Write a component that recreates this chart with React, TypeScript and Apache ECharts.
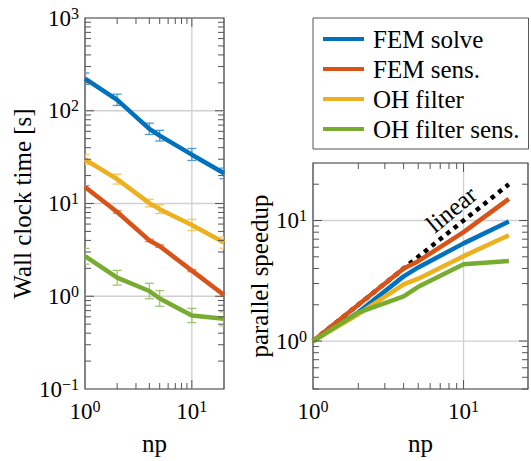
import React, { useEffect, useRef } from 'react';
import * as echarts from 'echarts';

// ---------------- data ----------------
const np = [1, 2, 4, 5, 10, 20];

const seriesNames = ['FEM solve', 'FEM sens.', 'OH filter', 'OH filter sens.'];

// wall clock time [s]
const femSolveTime = [222, 131, 63.8, 53.9, 33.6, 21.2];
const femSolveLo = [192, 114, 55.5, 47.2, 29.1, 18.5];
const femSolveHi = [255, 151, 73.5, 61.5, 39.2, 24.1];

const femSensTime = [15.1, 8.1, 4.0, 3.47, 1.89, 1.03];
const femSensLo = [14.6, 7.85, 3.88, 3.37, 1.84, 1.0];
const femSensHi = [15.6, 8.35, 4.12, 3.57, 1.94, 1.06];

const ohFilterTime = [29.8, 18.3, 10.1, 8.69, 5.87, 3.79];
const ohFilterLo = [26.4, 16.2, 9.2, 7.8, 5.1, 3.3];
const ohFilterHi = [33.6, 20.7, 11.1, 9.7, 6.75, 4.35];

const ohSensTime = [2.7, 1.585, 1.14, 0.946, 0.62, 0.573];
const ohSensLo = [2.22, 1.32, 0.94, 0.78, 0.52, 0.48];
const ohSensHi = [3.28, 1.9, 1.38, 1.15, 0.74, 0.68];

// parallel speedup
const femSolveSpeedup = [1, 1.73, 3.44, 4.08, 6.46, 9.8];
const femSensSpeedup = [1, 2.0, 4.0, 4.6, 8.0, 15.1];
const ohFilterSpeedup = [1, 1.67, 2.95, 3.29, 5.06, 7.55];
const ohSensSpeedup = [1, 1.72, 2.35, 2.82, 4.34, 4.61];
const linearSpeedup = [1, 2, 4, 5, 10, 20];

const linearLabelPos = [8.3, 12.4];

// ticks
const minorMultipliers = [2, 3, 4, 5, 6, 7, 8, 9];
const leftXMinor = [2, 3, 4, 5, 6, 7, 8, 9];
const leftXMajor = [10];
const leftYDecades = [0.1, 1, 10, 100];
const leftYMajor = [1, 10, 100];
const rightXMinor = [2, 3, 4, 5, 6, 7, 8, 9];
const rightXMajor = [10];
const rightYMinor = [0.4, 0.5, 0.6, 0.7, 0.8, 0.9, 2, 3, 4, 5, 6, 7, 8, 9, 20];
const rightYMajor = [1, 10];

// ---------------- style ----------------
const FONT = 'Liberation Serif, serif';
const colors = ['#0072BD', '#D95319', '#EDB120', '#77AC30'];
const errColors = ['#4D9CD1', '#E4875E', '#F2C863', '#A0C56E'];

const tickLabel = (v: number) => {
  const e = Math.log10(v);
  const r = Math.round(e);
  if (Math.abs(e - r) > 1e-6) return '';
  const s = r < 0 ? '\u2212' + -r : String(r);
  return `{b|10}{s|${s}}`;
};

const labelRich = {
  b: { fontSize: 23, fontFamily: FONT, color: '#000' },
  s: { fontSize: 16, fontFamily: FONT, color: '#000', padding: [0, 0, 10, 0] },
};

// kinds: 0 x-minor, 1 x-major, 2 y-minor, 3 y-major
function tickData(xMinor: number[], xMajor: number[], yMinor: number[], yMajor: number[]) {
  const d: number[][] = [];
  xMinor.forEach((v) => d.push([v, 1, 0]));
  xMajor.forEach((v) => d.push([v, 1, 1]));
  yMinor.forEach((v) => d.push([1, v, 2]));
  yMajor.forEach((v) => d.push([1, v, 3]));
  return d;
}

const tickRender = (params: any, api: any) => {
  const cs = params.coordSys;
  const kind = api.value(2);
  const p = api.coord([api.value(0), api.value(1)]);
  const len = kind === 1 || kind === 3 ? 9 : 6;
  const style = { stroke: '#555', lineWidth: 1 };
  if (kind < 2) {
    const x = p[0];
    return {
      type: 'group',
      children: [
        { type: 'line', shape: { x1: x, y1: cs.y + cs.height, x2: x, y2: cs.y + cs.height - len }, style },
        { type: 'line', shape: { x1: x, y1: cs.y, x2: x, y2: cs.y + len }, style },
      ],
    };
  }
  const y = p[1];
  return {
    type: 'group',
    children: [
      { type: 'line', shape: { x1: cs.x, y1: y, x2: cs.x + len, y2: y }, style },
      { type: 'line', shape: { x1: cs.x + cs.width, y1: y, x2: cs.x + cs.width - len, y2: y }, style },
    ],
  };
};

const gridRender = (params: any, api: any) => {
  const cs = params.coordSys;
  const kind = api.value(2);
  const p = api.coord([api.value(0), api.value(1)]);
  const style = { stroke: '#d0d0d0', lineWidth: 1.3 };
  if (kind < 2) {
    return { type: 'line', shape: { x1: p[0], y1: cs.y, x2: p[0], y2: cs.y + cs.height }, style };
  }
  return { type: 'line', shape: { x1: cs.x, y1: p[1], x2: cs.x + cs.width, y2: p[1] }, style };
};

const errRender = (color: string) => (params: any, api: any) => {
  const x = api.value(0);
  const lo = api.coord([x, api.value(1)]);
  const hi = api.coord([x, api.value(2)]);
  const w = 4.5;
  const style = { stroke: color, lineWidth: 1.3 };
  return {
    type: 'group',
    children: [
      { type: 'line', shape: { x1: lo[0], y1: lo[1], x2: hi[0], y2: hi[1] }, style },
      { type: 'line', shape: { x1: lo[0] - w, y1: lo[1], x2: lo[0] + w, y2: lo[1] }, style },
      { type: 'line', shape: { x1: hi[0] - w, y1: hi[1], x2: hi[0] + w, y2: hi[1] }, style },
    ],
  };
};

function buildOption() {
  const times = [femSolveTime, femSensTime, ohFilterTime, ohSensTime];
  const los = [femSolveLo, femSensLo, ohFilterLo, ohSensLo];
  const his = [femSolveHi, femSensHi, ohFilterHi, ohSensHi];
  const speedups = [femSolveSpeedup, femSensSpeedup, ohFilterSpeedup, ohSensSpeedup];

  const leftYMinor: number[] = [];
  leftYDecades.forEach((d) => minorMultipliers.forEach((m) => leftYMinor.push(+(d * m).toPrecision(6))));

  const series: any[] = [];
  series.push({
    type: 'custom', name: 'gridL', xAxisIndex: 0, yAxisIndex: 0, z: 1, silent: true,
    renderItem: gridRender, encode: { x: 0, y: 1 },
    data: tickData([], leftXMajor, [], leftYMajor),
  });
  series.push({
    type: 'custom', name: 'gridR', xAxisIndex: 1, yAxisIndex: 1, z: 1, silent: true,
    renderItem: gridRender, encode: { x: 0, y: 1 },
    data: tickData([], rightXMajor, [], rightYMajor),
  });
  seriesNames.forEach((n, i) => {
    series.push({
      type: 'custom', name: n + ' err', xAxisIndex: 0, yAxisIndex: 0, z: 2, clip: true, silent: true,
      renderItem: errRender(errColors[i]), encode: { x: 0, y: [1, 2] },
      data: np.map((x, k) => [x, los[i][k], his[i][k]]),
    });
  });
  seriesNames.forEach((n, i) => {
    series.push({
      type: 'line', name: n, xAxisIndex: 0, yAxisIndex: 0, z: 3,
      symbol: 'none', showSymbol: false,
      itemStyle: { color: colors[i] },
      lineStyle: { color: colors[i], width: 4.5 },
      data: np.map((x, k) => [x, times[i][k]]),
    });
  });
  series.push({
    type: 'line', name: 'linear', xAxisIndex: 1, yAxisIndex: 1, z: 3,
    symbol: 'none', showSymbol: false,
    itemStyle: { color: '#000' },
    lineStyle: { color: '#000', width: 4.5, type: [4.5, 5], cap: 'butt' },
    data: np.map((x, k) => [x, linearSpeedup[k]]),
  });
  seriesNames.forEach((n, i) => {
    series.push({
      type: 'line', name: n, xAxisIndex: 1, yAxisIndex: 1, z: 3,
      symbol: 'none', showSymbol: false,
      itemStyle: { color: colors[i] },
      lineStyle: { color: colors[i], width: 4.5 },
      data: np.map((x, k) => [x, speedups[i][k]]),
    });
  });
  series.push({
    type: 'custom', name: 'linearLabel', xAxisIndex: 1, yAxisIndex: 1, z: 5, silent: true,
    encode: { x: 0, y: 1 },
    data: [linearLabelPos],
    renderItem: (params: any, api: any) => {
      const p = api.coord([api.value(0), api.value(1)]);
      return {
        type: 'text', x: p[0], y: p[1], rotation: (39.4 * Math.PI) / 180,
        style: { text: 'linear', fontFamily: FONT, fontSize: 25, fill: '#000', align: 'center', verticalAlign: 'middle' },
      };
    },
  });
  series.push({
    type: 'custom', name: 'ticksL', xAxisIndex: 0, yAxisIndex: 0, z: 6, silent: true,
    renderItem: tickRender, encode: { x: 0, y: 1 },
    data: tickData(leftXMinor, leftXMajor, leftYMinor, leftYMajor),
  });
  series.push({
    type: 'custom', name: 'ticksR', xAxisIndex: 1, yAxisIndex: 1, z: 6, silent: true,
    renderItem: tickRender, encode: { x: 0, y: 1 },
    data: tickData(rightXMinor, rightXMajor, rightYMinor, rightYMajor),
  });

  const axisCommon = {
    type: 'log',
    logBase: 10,
    axisLine: { show: false },
    axisTick: { show: false },
    splitLine: { show: false },
    minorTick: { show: false },
    nameLocation: 'middle',
    nameTextStyle: { fontFamily: FONT, fontSize: 25, color: '#000' },
  };

  return {
    animation: false,
    backgroundColor: '#fff',
    textStyle: { fontFamily: FONT },
    grid: [
      { left: 85, top: 18, width: 139, height: 380, show: true, borderColor: '#333', borderWidth: 1.2, backgroundColor: 'transparent' },
      { left: 313, top: 163, width: 217, height: 235, show: true, borderColor: '#333', borderWidth: 1.2, backgroundColor: 'transparent' },
    ],
    xAxis: [
      { ...axisCommon, gridIndex: 0, min: 1, max: 20, name: 'np', nameGap: 42,
        axisLabel: { formatter: tickLabel, rich: labelRich, margin: 9, fontFamily: FONT } },
      { ...axisCommon, gridIndex: 1, min: 1, max: 26.8, name: 'np', nameGap: 42,
        axisLabel: { formatter: tickLabel, rich: labelRich, margin: 9, fontFamily: FONT } },
    ],
    yAxis: [
      { ...axisCommon, gridIndex: 0, min: 0.1, max: 1000, name: 'Wall clock time [s]', nameGap: 50,
        axisLabel: { formatter: tickLabel, rich: labelRich, margin: 6, fontFamily: FONT } },
      { ...axisCommon, gridIndex: 1, min: 0.4, max: 30, name: 'parallel speedup', nameGap: 40,
        axisLabel: { formatter: tickLabel, rich: labelRich, margin: 6, fontFamily: FONT } },
    ],
    legend: {
      data: seriesNames,
      left: 313,
      top: 18,
      orient: 'vertical',
      icon: 'rect',
      itemWidth: 41,
      itemHeight: 4,
      itemGap: 0,
      selectedMode: false,
      padding: [6, 9, 5, 10],
      borderColor: '#555',
      borderWidth: 1,
      backgroundColor: '#fff',
      itemStyle: { borderWidth: 0 },
      textStyle: { fontFamily: FONT, fontSize: 25, color: '#000', lineHeight: 30, width: 144, padding: [0, 0, 0, 4] },
    },
    series,
  };
}

export default function App() {
  const ref = useRef<HTMLDivElement>(null);
  useEffect(() => {
    if (!ref.current) return;
    const chart = echarts.init(ref.current, undefined, { renderer: 'svg' });
    chart.setOption(buildOption() as any);
    return () => chart.dispose();
  }, []);
  return (
    <div
      ref={ref}
      style={{ position: 'fixed', left: 0, top: 0, width: 531, height: 461, background: '#fff' }}
    />
  );
}
